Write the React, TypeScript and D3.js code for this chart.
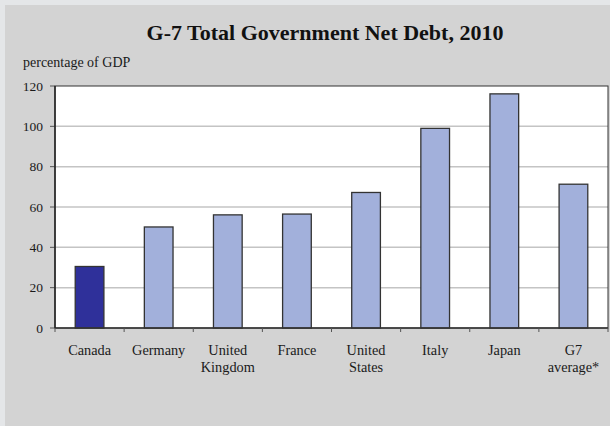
import React from "react";
import * as d3 from "d3";

const categories: string[][] = [
  ["Canada"],
  ["Germany"],
  ["United", "Kingdom"],
  ["France"],
  ["United", "States"],
  ["Italy"],
  ["Japan"],
  ["G7", "average*"],
];
const values: number[] = [30.5, 50.1, 56.1, 56.5, 67.2, 99.0, 116.1, 71.3];
const highlight: boolean[] = [true, false, false, false, false, false, false, false];
const yTicks: number[] = [0, 20, 40, 60, 80, 100, 120];
const title = "G-7 Total Government Net Debt, 2010";
const yLabel = "percentage of GDP";

const W = 610;
const H = 426;
const plot = { left: 55, right: 608, top: 86, bottom: 328 };
const font = "'Liberation Serif', 'Times New Roman', serif";

export default function App() {
  const keys = categories.map((_, i) => String(i));
  const x = d3
    .scaleBand<string>()
    .domain(keys)
    .range([plot.left, plot.right])
    .paddingInner(0.585)
    .paddingOuter(0.2925);
  const y = d3.scaleLinear().domain([0, 120]).range([plot.bottom, plot.top]);
  const step = (plot.right - plot.left) / categories.length;
  const boundaries = d3.range(categories.length + 1).map((i) => plot.left + i * step);

  return (
    <div style={{ position: "fixed", left: 0, top: 0 }}>
      <svg width={W} height={H} style={{ display: "block" }}>
        <rect x={0} y={0} width={W} height={H} fill="#e4e6e8" />
        <rect x={5} y={5} width={W - 5} height={H - 5} fill="#d3d3d3" />
        <text
          x={325}
          y={40}
          textAnchor="middle"
          fontFamily={font}
          fontWeight="bold"
          fontSize={22}
          fill="#111"
        >
          {title}
        </text>
        <text x={23} y={67} fontFamily={font} fontSize={14} fill="#1a1a1a">
          {yLabel}
        </text>
        <rect
          x={plot.left}
          y={plot.top}
          width={plot.right - plot.left}
          height={plot.bottom - plot.top}
          fill="#ffffff"
        />
        {yTicks.slice(1, -1).map((t) => (
          <line
            key={"g" + t}
            x1={plot.left}
            x2={plot.right}
            y1={y(t)}
            y2={y(t)}
            stroke="#c4c4c4"
            strokeWidth={1.5}
          />
        ))}
        <rect
          x={plot.left}
          y={plot.top}
          width={plot.right - plot.left}
          height={plot.bottom - plot.top}
          fill="none"
          stroke="#333"
          strokeWidth={1}
        />
        {yTicks.map((t) => (
          <g key={"t" + t}>
            <line x1={plot.left - 5} x2={plot.left} y1={y(t)} y2={y(t)} stroke="#555" strokeWidth={1} />
            <text
              x={43}
              y={y(t) + 4.5}
              textAnchor="end"
              fontFamily={font}
              fontSize={13.5}
              fill="#1a1a1a"
            >
              {t}
            </text>
          </g>
        ))}
        {values.map((v, i) => (
          <rect
            key={"b" + i}
            x={x(String(i))!}
            y={y(v)}
            width={x.bandwidth()}
            height={y(0) - y(v)}
            fill={highlight[i] ? "#2f309a" : "#a2b0db"}
            stroke="#333"
            strokeWidth={1.3}
          />
        ))}
        <line
          x1={plot.left}
          x2={plot.right}
          y1={plot.bottom}
          y2={plot.bottom}
          stroke="#333"
          strokeWidth={1.5}
        />
        <line
          x1={plot.left}
          x2={plot.left}
          y1={plot.top}
          y2={plot.bottom}
          stroke="#222"
          strokeWidth={1.5}
        />
        {boundaries.map((bx, i) => (
          <line key={"xt" + i} x1={bx} x2={bx} y1={plot.bottom} y2={plot.bottom + 4} stroke="#555" strokeWidth={1} />
        ))}
        {categories.map((lines, i) => (
          <text
            key={"c" + i}
            x={x(String(i))! + x.bandwidth() / 2}
            y={355}
            textAnchor="middle"
            fontFamily={font}
            fontSize={14.3}
            fill="#1a1a1a"
          >
            {lines.map((l, j) => (
              <tspan key={j} x={x(String(i))! + x.bandwidth() / 2} dy={j === 0 ? 0 : 16.5}>
                {l}
              </tspan>
            ))}
          </text>
        ))}
      </svg>
    </div>
  );
}
